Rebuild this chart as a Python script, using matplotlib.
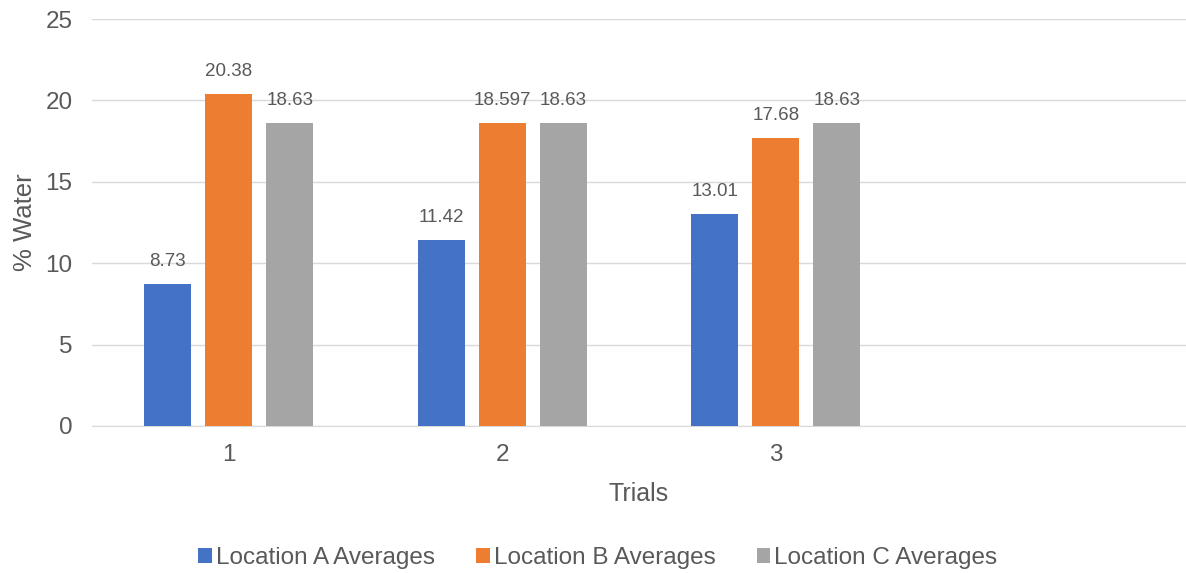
import numpy as np
import matplotlib.pyplot as plt

plt.rcParams['font.family'] = ['Liberation Sans', 'DejaVu Sans']

categories = ['1', '2', '3', '']
loc_a = [8.73, 11.42, 13.01]
loc_b = [20.38, 18.597, 17.68]
loc_c = [18.63, 18.63, 18.63]
labels_a = ['8.73', '11.42', '13.01']
labels_b = ['20.38', '18.597', '17.68']
labels_c = ['18.63', '18.63', '18.63']
series_names = ['Location A Averages', 'Location B Averages', 'Location C Averages']
colors = ['#4472C4', '#ED7D31', '#A5A5A5']
text_col = '#595959'

fig = plt.figure(figsize=(11.86, 5.73), dpi=100)
ax = fig.add_axes([92 / 1186, 1 - 426 / 573, 1 - 92 / 1186, (426 - 19) / 573])

x = np.arange(len(loc_a))
w = 0.172
step = 0.223
for i, (vals, labs) in enumerate(zip([loc_a, loc_b, loc_c], [labels_a, labels_b, labels_c])):
    bars = ax.bar(x + (i - 1) * step, vals, width=w, color=colors[i],
                  label=series_names[i], zorder=3)
    ax.bar_label(bars, labels=labs, padding=10, fontsize=13.5, color=text_col)

ax.set_xlim(-0.5, 3.5)
ax.set_ylim(0, 25)
ax.set_xticks(np.arange(len(categories)))
ax.set_xticklabels(categories)
ax.set_yticks(np.arange(0, 26, 5))
ax.tick_params(axis='both', length=0, labelsize=17.5, colors=text_col)
ax.tick_params(axis='x', pad=13)
ax.tick_params(axis='y', pad=14)
ax.grid(axis='y', color='#D9D9D9', linewidth=1, zorder=0)
for s in ['top', 'right', 'left']:
    ax.spines[s].set_visible(False)
ax.spines['bottom'].set_color('#D9D9D9')

ax.set_xlabel('Trials', fontsize=18, color=text_col, labelpad=11.5)
ax.set_ylabel('% Water', fontsize=18.5, color=text_col, labelpad=6)

fig.legend(*ax.get_legend_handles_labels(), loc='center',
           bbox_to_anchor=(598 / 1186, 1 - 558 / 573), ncol=3,
           frameon=False, fontsize=17.5, labelcolor=text_col,
           handlelength=0.55, handleheight=0.55, handletextpad=0.17,
           columnspacing=1.7, borderpad=0)

fig.savefig('out.png')
